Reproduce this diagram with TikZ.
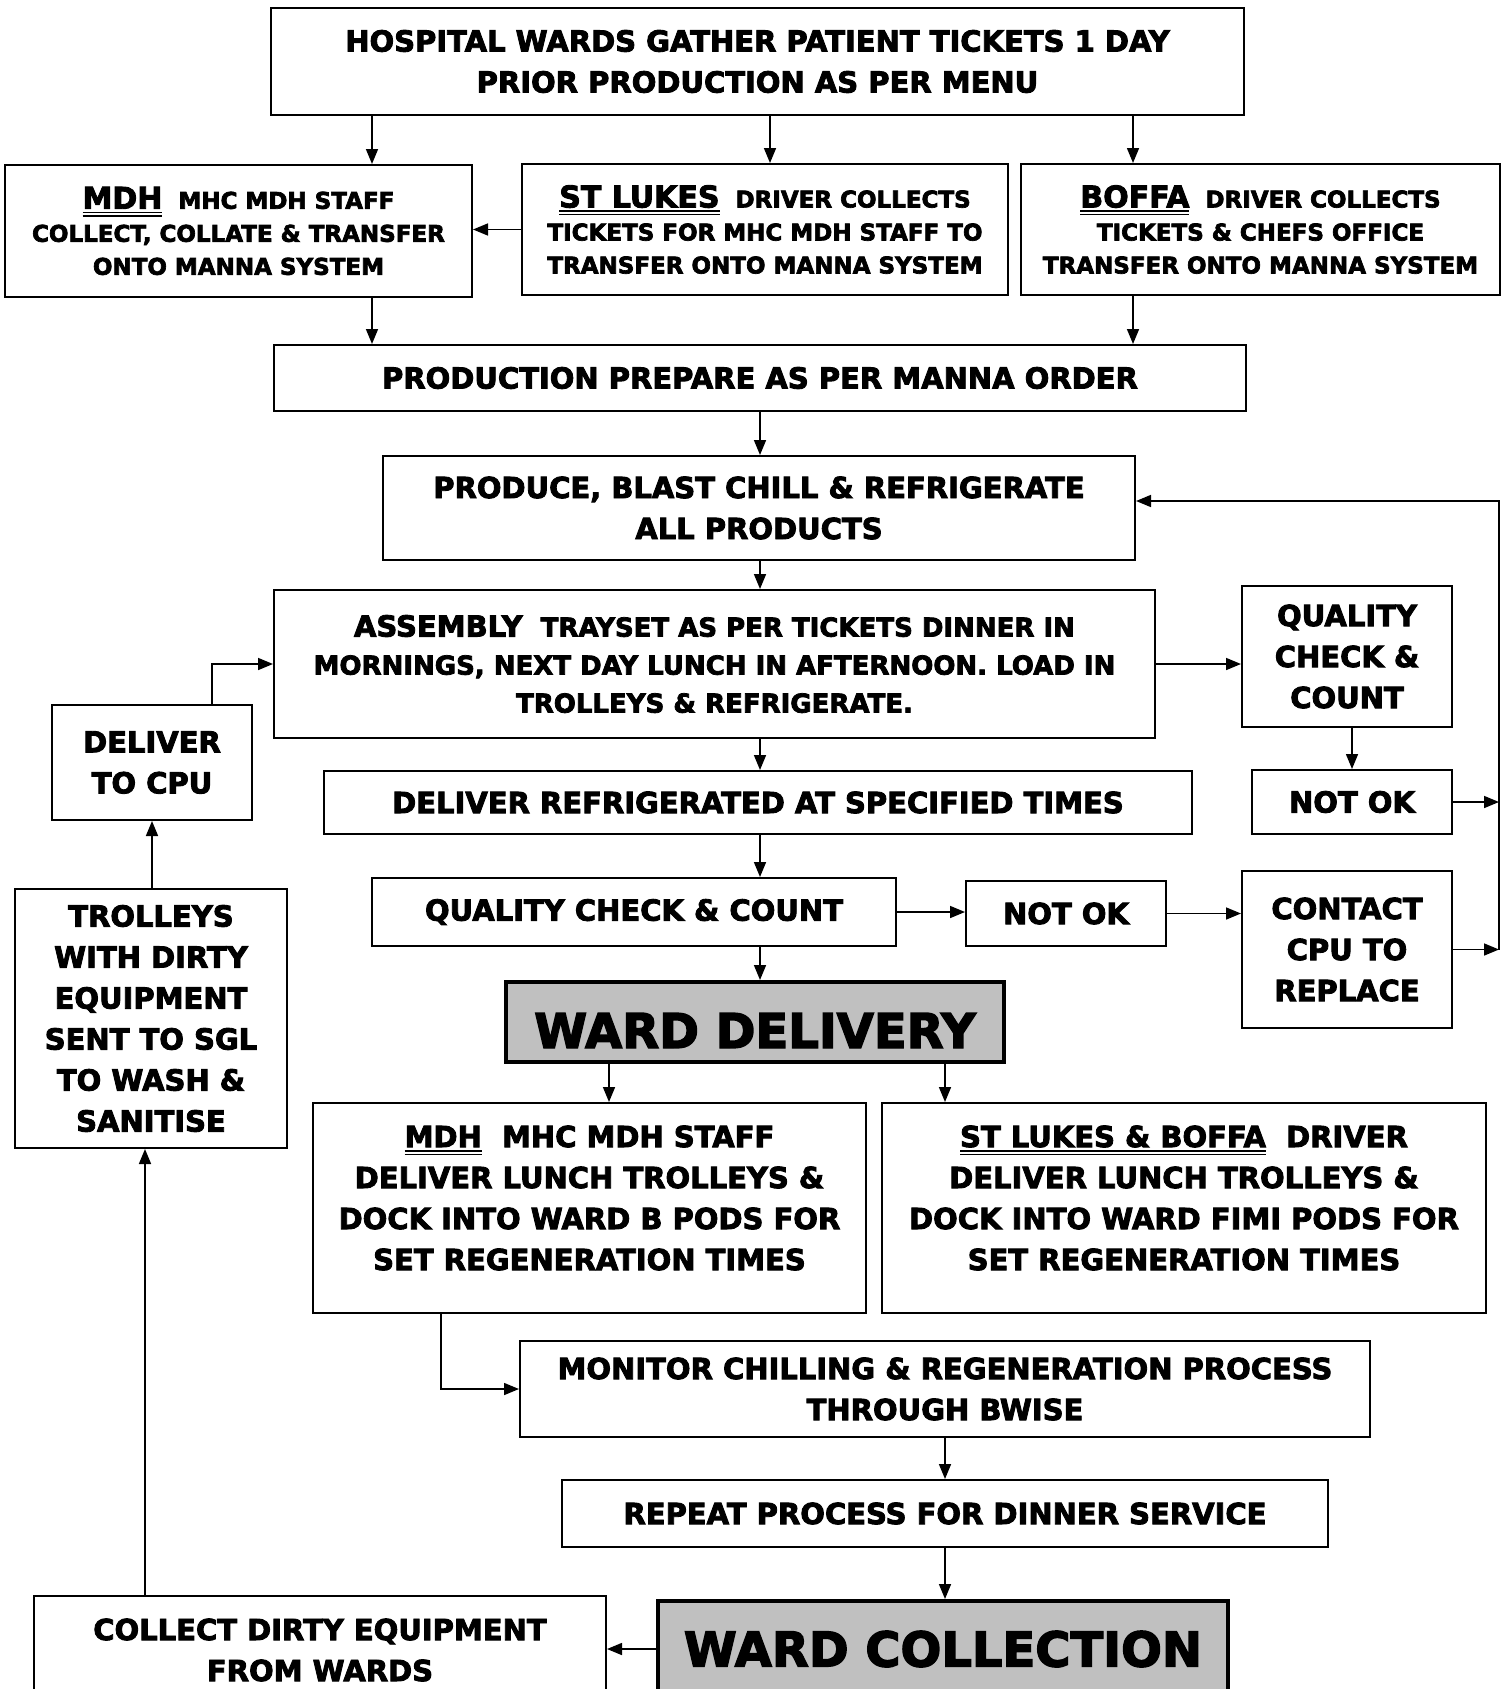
\documentclass[tikz,border=0pt]{standalone}
\usepackage{fontspec}
\setmainfont{DejaVu Sans}[BoldFont={DejaVu Sans Bold}, BoldFeatures={FakeBold=3}]
\usetikzlibrary{arrows.meta}
\definecolor{wardgray}{RGB}{192,192,192}
% double underline for the site names
\newcommand{\ulinetwo}[1]{\setbox0\hbox{#1}\leavevmode\rlap{\rule[-4.5pt]{\wd0}{1.5pt}}\rlap{\rule[-8pt]{\wd0}{1.5pt}}\box0}

\begin{document}
\begin{tikzpicture}[x=1pt,y=-1pt,
    box/.style={draw, line width=2pt, align=center, inner sep=0pt,
        font=\fontsize{29}{41}\selectfont\bfseries},
    small/.style={font=\fontsize{23}{33}\selectfont\bfseries},
    wardbox/.style={draw, line width=4pt, fill=wardgray, inner sep=0pt,
        font=\fontsize{48}{56}\selectfont\bfseries},
    txt/.style={align=center, inner sep=0pt, font=\fontsize{29}{41}\selectfont\bfseries},
    arr/.style={-{Triangle[length=15pt,width=12pt]}, line width=1.6pt}]
    \useasboundingbox (0,0) rectangle (1509,1689);

    % Tickets
    \node[box, minimum width=973pt, minimum height=107pt] (top) at (757.5,61.5)
        {HOSPITAL WARDS GATHER PATIENT TICKETS 1 DAY\\PRIOR PRODUCTION AS PER MENU};
    \node[box, small, minimum width=467pt, minimum height=132pt] (mdh) at (238.5,231)
        {{\fontsize{30}{33}\selectfont\ulinetwo{MDH}}\ \ MHC MDH STAFF\\COLLECT, COLLATE \& TRANSFER\\ONTO MANNA SYSTEM};
    \node[box, small, minimum width=486pt, minimum height=131pt] (stlukes) at (765,229.5)
        {{\fontsize{30}{33}\selectfont\ulinetwo{ST LUKES}}\ \ DRIVER COLLECTS\\TICKETS FOR MHC MDH STAFF TO\\TRANSFER ONTO MANNA SYSTEM};
    \node[box, small, minimum width=479pt, minimum height=131pt] (boffa) at (1260.5,229.5)
        {{\fontsize{30}{33}\selectfont\ulinetwo{BOFFA}}\ \ DRIVER COLLECTS\\TICKETS \& CHEFS OFFICE\\TRANSFER ONTO MANNA SYSTEM};

    % Production
    \node[box, minimum width=972pt, minimum height=66pt] (prodprep) at (760,378)
        {PRODUCTION PREPARE AS PER MANNA ORDER};
    \node[box, minimum width=752pt, minimum height=104pt] (produce) at (759,508)
        {PRODUCE, BLAST CHILL \& REFRIGERATE\\ALL PRODUCTS};
    \node[box, font=\fontsize{26}{38}\selectfont\bfseries, minimum width=881pt, minimum height=148pt] (assembly) at (714.5,664)
        {{\fontsize{29}{38}\selectfont ASSEMBLY}\ \ TRAYSET AS PER TICKETS DINNER IN\\MORNINGS, NEXT DAY LUNCH IN AFTERNOON. LOAD IN\\TROLLEYS \& REFRIGERATE.};
    \node[box, minimum width=210pt, minimum height=141pt] (qcright) at (1347,656.5)
        {QUALITY\\CHECK \&\\COUNT};
    \node[box, minimum width=200pt, minimum height=115pt] (tocpu) at (152,762.5)
        {DELIVER\\TO CPU};
    \node[box, minimum width=868pt, minimum height=63pt] (delref) at (758,802.5)
        {DELIVER REFRIGERATED AT SPECIFIED TIMES};
    \node[box, minimum width=200pt, minimum height=64pt] (notokright) at (1352,802)
        {NOT OK};
    \node[box, minimum width=524pt, minimum height=68pt] (qcmid) at (634,912)
        {QUALITY CHECK \& COUNT};
    \node[box, minimum width=200pt, minimum height=65pt] (notokmid) at (1066,913.5)
        {NOT OK};
    \node[box, minimum width=210pt, minimum height=157pt] (contact) at (1347,949.5)
        {CONTACT\\CPU TO\\REPLACE};
    \node[box, minimum width=272pt, minimum height=259pt] (trolleys) at (151,1018.5)
        {TROLLEYS\\WITH DIRTY\\EQUIPMENT\\SENT TO SGL\\TO WASH \&\\SANITISE};

    % Delivery
    \node[wardbox, text height=52pt, text depth=0pt, minimum width=498pt, minimum height=80pt] (warddel) at (755,1022)
        {WARD DELIVERY};
    \node[box, minimum width=553pt, minimum height=210pt] (mdhdel) at (589.5,1208) {};
    \node[txt] (mdhdeltext) at (589.5,1198)
        {\ulinetwo{MDH}\ \ MHC MDH STAFF\\DELIVER LUNCH TROLLEYS \&\\DOCK INTO WARD B PODS FOR\\SET REGENERATION TIMES};
    \node[box, minimum width=604pt, minimum height=210pt] (stldel) at (1184,1208) {};
    \node[txt] (stldeltext) at (1184,1198)
        {\ulinetwo{ST LUKES \& BOFFA}\ \ DRIVER\\DELIVER LUNCH TROLLEYS \&\\DOCK INTO WARD FIMI PODS FOR\\SET REGENERATION TIMES};
    \node[box, minimum width=850pt, minimum height=96pt] (monitor) at (945,1389)
        {MONITOR CHILLING \& REGENERATION PROCESS\\THROUGH BWISE};
    \node[box, minimum width=766pt, minimum height=67pt] (repeat) at (945,1513.5)
        {REPEAT PROCESS FOR DINNER SERVICE};

    % Collection
    \node[wardbox, minimum width=570pt, minimum height=96pt] (wardcol) at (943,1649)
        {WARD COLLECTION};
    \node[box, minimum width=572pt, minimum height=108pt] (collect) at (320,1650)
        {COLLECT DIRTY EQUIPMENT\\FROM WARDS};

    % Colunas das setas
    \coordinate (ca) at (372,0);
    \coordinate (cb) at (770,0);
    \coordinate (cc) at (1133,0);
    \coordinate (cm) at (760,0);
    \coordinate (cp) at (609,0);
    \coordinate (cq) at (945,0);
    \coordinate (rtop) at (1499,501);

    % Setas
    \draw[arr] (top.south -| ca) -- (mdh.north -| ca);
    \draw[arr] (top.south -| cb) -- (stlukes.north -| cb);
    \draw[arr] (top.south -| cc) -- (boffa.north -| cc);
    \draw[arr] (stlukes.west) -- (stlukes.west -| mdh.east);
    \draw[arr] (mdh.south -| ca) -- (prodprep.north -| ca);
    \draw[arr] (boffa.south -| cc) -- (prodprep.north -| cc);
    \draw[arr] (prodprep.south -| cm) -- (produce.north -| cm);
    \draw[arr] (produce.south -| cm) -- (assembly.north -| cm);
    \draw[arr] (assembly.south -| cm) -- (delref.north -| cm);
    \draw[arr] (delref.south -| cm) -- (qcmid.north -| cm);
    \draw[arr] (qcmid.south -| cm) -- (warddel.north -| cm);
    \draw[arr] (assembly.east) -- (assembly.east -| qcright.west);
    \draw[arr] (qcright.south -| notokright) -- (notokright.north);
    \draw[arr] (notokright.east) -- (notokright.east -| rtop);
    \draw[arr] (qcmid.east) -- (qcmid.east -| notokmid.west);
    \draw[arr] (notokmid.east) -- (notokmid.east -| contact.west);
    \draw[arr] (contact.east) -- (contact.east -| rtop);
    \draw[arr] (contact.east -| rtop) -- (rtop) -- (rtop -| produce.east);
    \draw[arr] (warddel.south -| cp) -- (mdhdel.north -| cp);
    \draw[arr] (warddel.south -| cq) -- (stldel.north -| cq);
    \draw[arr] (mdhdel.south -| 441,0) |- (monitor.west);
    \draw[arr] (monitor.south -| cq) -- (repeat.north -| cq);
    \draw[arr] (repeat.south -| cq) -- (wardcol.north -| cq);
    \draw[arr] (wardcol.west) -- (wardcol.west -| collect.east);
    \draw[arr] (collect.north -| 145,0) -- (trolleys.south -| 145,0);
    \draw[arr] (trolleys.north -| tocpu) -- (tocpu.south);
    \draw[arr] (tocpu.north -| 212,0) |- (assembly.west);
\end{tikzpicture}
\end{document}
